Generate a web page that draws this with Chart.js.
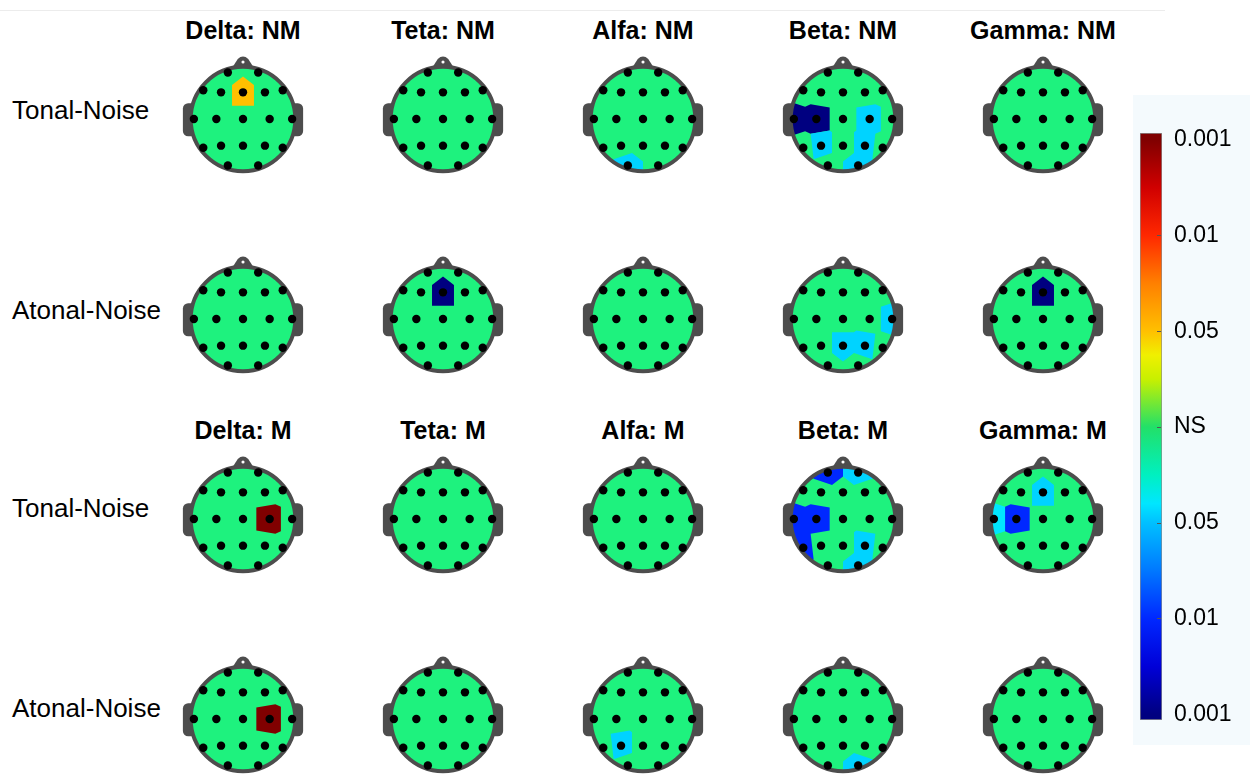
<!DOCTYPE html>
<html>
<head>
<meta charset="utf-8">
<title>EEG band topographies</title>
<script src="https://cdn.jsdelivr.net/npm/chart.js@4.4.1/dist/chart.umd.min.js"></script>
<style>
  html, body { margin: 0; padding: 0; background: #fff; overflow: hidden; width: 1250px; height: 774px; }
  #fig { position: relative; width: 1250px; height: 774px; font-family: "Liberation Sans", Arial, sans-serif; color: #000; }
  .topline { position: absolute; left: 0; top: 10px; width: 1165px; height: 1px; background: #ececec; }
  .cbpanel { position: absolute; left: 1133px; top: 95px; width: 117px; height: 650px; background: #f4fafd; }
  .title { position: absolute; width: 220px; text-align: center; font-weight: bold; font-size: 25px; line-height: 1; white-space: nowrap; }
  .rowlab { position: absolute; left: 12px; font-size: 26px; line-height: 1; white-space: nowrap; }
  canvas.head { position: absolute; }
  canvas.cbar { position: absolute; }
</style>
</head>
<body>
<div id="fig">
  <div class="topline"></div>
  <div class="cbpanel"></div>
</div>
<script>
// ---- Electrode montage (10-20 system, head radius = 1, nose up) ----
const electrodes = ['Fp1','Fp2','F7','F3','Fz','F4','F8','T3','C3','Cz','C4','T4','T5','P3','Pz','P4','T6','O1','O2'];
const electrodeX = [-0.29, 0.29, -0.76, -0.42, 0, 0.42, 0.76, -0.94, -0.51, 0, 0.51, 0.94, -0.76, -0.42, 0, 0.42, 0.76, -0.29, 0.29];
const electrodeY = [0.89, 0.89, 0.55, 0.51, 0.51, 0.51, 0.55, 0, 0, 0, 0, 0, -0.55, -0.51, -0.51, -0.51, -0.55, -0.89, -0.89];

// ---- Labels ----
const bands = ['Delta', 'Teta', 'Alfa', 'Beta', 'Gamma'];
const conditions = ['NM', 'M'];
const contrasts = ['Tonal-Noise', 'Atonal-Noise'];

// ---- Signed significance per electrode (order as in `electrodes`) ----
// +/-1 ~ p<0.05, +/-2 ~ p<0.01, +/-3 ~ p<0.001, 0 = NS; sign gives direction
//                      Fp1 Fp2  F7 F3 Fz F4 F8   T3 C3 Cz C4 T4   T5 P3 Pz P4 T6   O1 O2
const deltaNM_tonal  = [0, 0,    0, 0, 1, 0, 0,   0, 0, 0, 0, 0,   0, 0, 0, 0, 0,   0, 0];
const tetaNM_tonal   = [0, 0,    0, 0, 0, 0, 0,   0, 0, 0, 0, 0,   0, 0, 0, 0, 0,   0, 0];
const alfaNM_tonal   = [0, 0,    0, 0, 0, 0, 0,   0, 0, 0, 0, 0,   0, 0, 0, 0, 0,   -0.9, 0];
const betaNM_tonal   = [0, 0,    0, 0, 0, 0, 0,   -3, -3, 0, -0.9, 0,   0, -0.9, 0, -0.9, 0,   0, -0.9];
const gammaNM_tonal  = [0, 0,    0, 0, 0, 0, 0,   0, 0, 0, 0, 0,   0, 0, 0, 0, 0,   0, 0];

const deltaNM_atonal = [0, 0,    0, 0, 0, 0, 0,   0, 0, 0, 0, 0,   0, 0, 0, 0, 0,   0, 0];
const tetaNM_atonal  = [0, 0,    0, 0, -3, 0, 0,  0, 0, 0, 0, 0,   0, 0, 0, 0, 0,   0, 0];
const alfaNM_atonal  = [0, 0,    0, 0, 0, 0, 0,   0, 0, 0, 0, 0,   0, 0, 0, 0, 0,   0, 0];
const betaNM_atonal  = [0, 0,    0, 0, 0, 0, 0,   0, 0, 0, 0, -0.9,   0, 0, -0.9, -0.9, 0,   0, 0];
const gammaNM_atonal = [0, 0,    0, 0, -3, 0, 0,  0, 0, 0, 0, 0,   0, 0, 0, 0, 0,   0, 0];

const deltaM_tonal   = [0, 0,    0, 0, 0, 0, 0,   0, 0, 0, 3, 0,   0, 0, 0, 0, 0,   0, 0];
const tetaM_tonal    = [0, 0,    0, 0, 0, 0, 0,   0, 0, 0, 0, 0,   0, 0, 0, 0, 0,   0, 0];
const alfaM_tonal    = [0, 0,    0, 0, 0, 0, 0,   0, 0, 0, 0, 0,   0, 0, 0, 0, 0,   0, 0];
const betaM_tonal    = [-2, -0.9, 0, 0, 0, 0, 0,  -2, -2, 0, 0, 0,   -2, 0, 0, -0.9, 0,   0, -0.9];
const gammaM_tonal   = [0, 0,    0, 0, -0.9, 0, 0, -0.8, -2, 0, 0, 0,   0, 0, 0, 0, 0,   0, 0];

const deltaM_atonal  = [0, 0,    0, 0, 0, 0, 0,   0, 0, 0, 3, 0,   0, 0, 0, 0, 0,   0, 0];
const tetaM_atonal   = [0, 0,    0, 0, 0, 0, 0,   0, 0, 0, 0, 0,   0, 0, 0, 0, 0,   0, 0];
const alfaM_atonal   = [0, 0,    0, 0, 0, 0, 0,   0, 0, 0, 0, 0,   0, -0.9, 0, 0, 0,   0, 0];
const betaM_atonal   = [0, 0,    0, 0, 0, 0, 0,   0, 0, 0, 0, 0,   0, 0, 0, 0, 0,   0, -0.9];
const gammaM_atonal  = [0, 0,    0, 0, 0, 0, 0,   0, 0, 0, 0, 0,   0, 0, 0, 0, 0,   0, 0];

// rows: Tonal NM, Atonal NM, Tonal M, Atonal M
const panelRows = [
  [deltaNM_tonal, tetaNM_tonal, alfaNM_tonal, betaNM_tonal, gammaNM_tonal],
  [deltaNM_atonal, tetaNM_atonal, alfaNM_atonal, betaNM_atonal, gammaNM_atonal],
  [deltaM_tonal, tetaM_tonal, alfaM_tonal, betaM_tonal, gammaM_tonal],
  [deltaM_atonal, tetaM_atonal, alfaM_atonal, betaM_atonal, gammaM_atonal]
];

// ---- Colour bar ----
const cbarTicks  = [3, 2, 1, 0, -1, -2, -3];
const cbarLabels = ['0.001', '0.01', '0.05', 'NS', '0.05', '0.01', '0.001'];
const cbarRange  = [-3.06, 3.07];

// ---- Layout ----
const colCenters = [243, 443, 643, 843, 1043];
const rowCenters = [119, 319, 519, 719];
const titleCenters = [30, 430];
const rowLabelCenters = [110, 310, 508, 708];
const HEAD_PX = 160;

// ---- Styling ----
const NS_GREEN = '#1ef27e';
const HEAD_EDGE = '#4d4d4d';
const cmapStops = [
  [-3, '#000080'], [-2.5, '#0000d8'], [-2, '#0028ff'], [-1.5, '#0078ff'], [-1, '#00c0ff'],
  [-0.8, '#00e6ff'], [-0.5, '#00f0c0'], [0, '#22e068'], [0.5, '#c8f000'], [0.75, '#f0f000'],
  [1, '#ffc000'], [1.5, '#ff8000'], [2, '#ff2800'], [2.5, '#d00000'], [3, '#800000']
];

function hexToRgb(h) { const n = parseInt(h.slice(1), 16); return [(n >> 16) & 255, (n >> 8) & 255, n & 255]; }
function colorFor(v) {
  if (v <= cmapStops[0][0]) return cmapStops[0][1];
  for (let i = 1; i < cmapStops.length; i++) {
    const [v1, c1] = cmapStops[i];
    if (v <= v1) {
      const [v0, c0] = cmapStops[i - 1];
      const t = (v - v0) / (v1 - v0);
      const a = hexToRgb(c0), b = hexToRgb(c1);
      return 'rgb(' + a.map((x, k) => Math.round(x + (b[k] - x) * t)).join(',') + ')';
    }
  }
  return cmapStops[cmapStops.length - 1][1];
}

// nearest-electrode cell (convex polygon) via half-plane clipping
function clipHalfPlane(poly, nx, ny, c) {
  const out = [];
  for (let i = 0; i < poly.length; i++) {
    const p = poly[i], q = poly[(i + 1) % poly.length];
    const dp = nx * p[0] + ny * p[1] - c, dq = nx * q[0] + ny * q[1] - c;
    if (dp <= 0) out.push(p);
    if ((dp < 0 && dq > 0) || (dp > 0 && dq < 0)) {
      const t = dp / (dp - dq);
      out.push([p[0] + (q[0] - p[0]) * t, p[1] + (q[1] - p[1]) * t]);
    }
  }
  return out;
}
function electrodeCell(i) {
  let poly = [[-1.3, -1.3], [1.3, -1.3], [1.3, 1.3], [-1.3, 1.3]];
  const xi = electrodeX[i], yi = electrodeY[i];
  for (let j = 0; j < electrodeX.length; j++) {
    if (j === i) continue;
    const xj = electrodeX[j], yj = electrodeY[j];
    poly = clipHalfPlane(poly, xj - xi, yj - yi, (xj * xj + yj * yj - xi * xi - yi * yi) / 2);
  }
  return poly;
}

// draws scalp, ears, nose and the significance cells under the electrode points
const headPlugin = {
  id: 'head',
  beforeDatasetsDraw(chart, args, opts) {
    const ctx = chart.ctx, sx = chart.scales.x, sy = chart.scales.y;
    const X = v => sx.getPixelForValue(v), Y = v => sy.getPixelForValue(v);
    const u = X(1) - X(0);
    const values = opts.values || [];
    ctx.save();
    // ears
    ctx.fillStyle = HEAD_EDGE;
    [-1, 1].forEach(s => {
      const xa = X(s * 0.9), xb = X(s * 1.15);
      ctx.beginPath();
      ctx.roundRect(Math.min(xa, xb), Y(0.3), Math.abs(xb - xa), Y(-0.33) - Y(0.3), 0.1 * u);
      ctx.fill();
    });
    // nose
    ctx.beginPath();
    ctx.moveTo(X(-0.26), Y(0.9));
    ctx.lineTo(X(-0.1), Y(1.15));
    ctx.quadraticCurveTo(X(0), Y(1.24), X(0.1), Y(1.15));
    ctx.lineTo(X(0.26), Y(0.9));
    ctx.closePath();
    ctx.fill();
    // scalp
    ctx.beginPath();
    ctx.arc(X(0), Y(0), u, 0, 2 * Math.PI);
    ctx.fillStyle = NS_GREEN;
    ctx.fill();
    // significance cells, same-level cells filled together
    ctx.save();
    ctx.clip();
    const groups = new Map();
    values.forEach((v, i) => { if (v !== 0) { if (!groups.has(v)) groups.set(v, []); groups.get(v).push(i); } });
    groups.forEach((idx, v) => {
      ctx.beginPath();
      idx.forEach(i => {
        const poly = electrodeCell(i);
        poly.forEach((p, k) => { if (k === 0) ctx.moveTo(X(p[0]), Y(p[1])); else ctx.lineTo(X(p[0]), Y(p[1])); });
        ctx.closePath();
      });
      ctx.fillStyle = colorFor(v);
      ctx.fill();
    });
    ctx.restore();
    // outline
    ctx.beginPath();
    ctx.arc(X(0), Y(0), u, 0, 2 * Math.PI);
    ctx.lineWidth = 0.075 * u;
    ctx.strokeStyle = HEAD_EDGE;
    ctx.stroke();
    // nose marker
    ctx.beginPath();
    ctx.arc(X(0), Y(1.09), 0.03 * u, 0, 2 * Math.PI);
    ctx.fillStyle = '#ffffff';
    ctx.fill();
    ctx.restore();
  }
};

const fig = document.getElementById('fig');

// column titles
conditions.forEach((cond, c) => {
  bands.forEach((band, b) => {
    const d = document.createElement('div');
    d.className = 'title';
    d.textContent = band + ': ' + cond;
    d.style.left = (colCenters[b] - 110) + 'px';
    d.style.top = (titleCenters[c] - 0.49 * 25) + 'px';
    fig.appendChild(d);
  });
});

// row labels
rowLabelCenters.forEach((cy, r) => {
  const d = document.createElement('div');
  d.className = 'rowlab';
  d.textContent = contrasts[r % 2];
  d.style.top = (cy - 0.49 * 26) + 'px';
  fig.appendChild(d);
});

// head maps
const electrodePoints = electrodeX.map((x, i) => ({ x: x, y: electrodeY[i] }));
panelRows.forEach((row, r) => {
  row.forEach((vals, b) => {
    const cv = document.createElement('canvas');
    cv.className = 'head';
    cv.width = HEAD_PX; cv.height = HEAD_PX;
    cv.style.left = (colCenters[b] - HEAD_PX / 2) + 'px';
    cv.style.top = (rowCenters[r] - HEAD_PX / 2) + 'px';
    fig.appendChild(cv);
    new Chart(cv, {
      type: 'scatter',
      data: { datasets: [{ data: electrodePoints, pointRadius: 4.2, pointHoverRadius: 4.2, backgroundColor: '#000', borderWidth: 0 }] },
      options: {
        responsive: false, maintainAspectRatio: false, animation: false, events: [],
        layout: { padding: 0 },
        plugins: { legend: { display: false }, tooltip: { enabled: false }, head: { values: vals } },
        scales: {
          x: { type: 'linear', min: -1.45, max: 1.45, display: false },
          y: { type: 'linear', min: -1.45, max: 1.45, display: false }
        }
      },
      plugins: [headPlugin]
    });
  });
});

// colour bar
const cbarTickMarks = {
  id: 'cbarTickMarks',
  afterDatasetsDraw(chart) {
    const { ctx, chartArea, scales: { y } } = chart;
    ctx.save();
    ctx.strokeStyle = '#555';
    ctx.lineWidth = 1;
    cbarTicks.forEach(v => {
      if (Math.abs(v) >= 3) return;
      const py = Math.round(y.getPixelForValue(v)) + 0.5;
      ctx.beginPath();
      ctx.moveTo(chartArea.right - 5, py);
      ctx.lineTo(chartArea.right - 1, py);
      ctx.stroke();
    });
    ctx.restore();
  }
};
const cb = document.createElement('canvas');
cb.className = 'cbar';
cb.width = 110; cb.height = 650;
cb.style.left = '1140px';
cb.style.top = '100px';
fig.appendChild(cb);
new Chart(cb, {
  type: 'bar',
  data: {
    labels: [''],
    datasets: [{
      data: [cbarRange],
      backgroundColor(ctx) {
        const ch = ctx.chart;
        if (!ch.chartArea) return 'transparent';
        const y = ch.scales.y;
        const top = y.getPixelForValue(cbarRange[1]), bot = y.getPixelForValue(cbarRange[0]);
        const g = ch.ctx.createLinearGradient(0, bot, 0, top);
        cmapStops.forEach(([v, c]) => {
          const t = (y.getPixelForValue(v) - bot) / (top - bot);
          g.addColorStop(Math.min(1, Math.max(0, t)), c);
        });
        return g;
      },
      borderColor: '#8c8c8c',
      borderWidth: 1,
      borderSkipped: false,
      barPercentage: 1,
      categoryPercentage: 1
    }]
  },
  options: {
    responsive: false, maintainAspectRatio: false, animation: false, events: [],
    layout: { padding: { top: 33, bottom: 30, left: 0, right: 0 } },
    plugins: { legend: { display: false }, tooltip: { enabled: false } },
    scales: {
      x: { display: false },
      y: {
        position: 'right',
        min: cbarRange[0], max: cbarRange[1],
        grid: { display: false, drawTicks: false },
        border: { display: false },
        afterBuildTicks(scale) { scale.ticks = cbarTicks.map(v => ({ value: v })); },
        afterFit(scale) { scale.width = 88; },
        ticks: {
          padding: 12,
          color: '#000',
          font: { family: '"Liberation Sans", Arial, sans-serif', size: 23 },
          callback(value) { return cbarLabels[cbarTicks.indexOf(value)]; }
        }
      }
    }
  },
  plugins: [cbarTickMarks]
});
</script>
</body>
</html>
